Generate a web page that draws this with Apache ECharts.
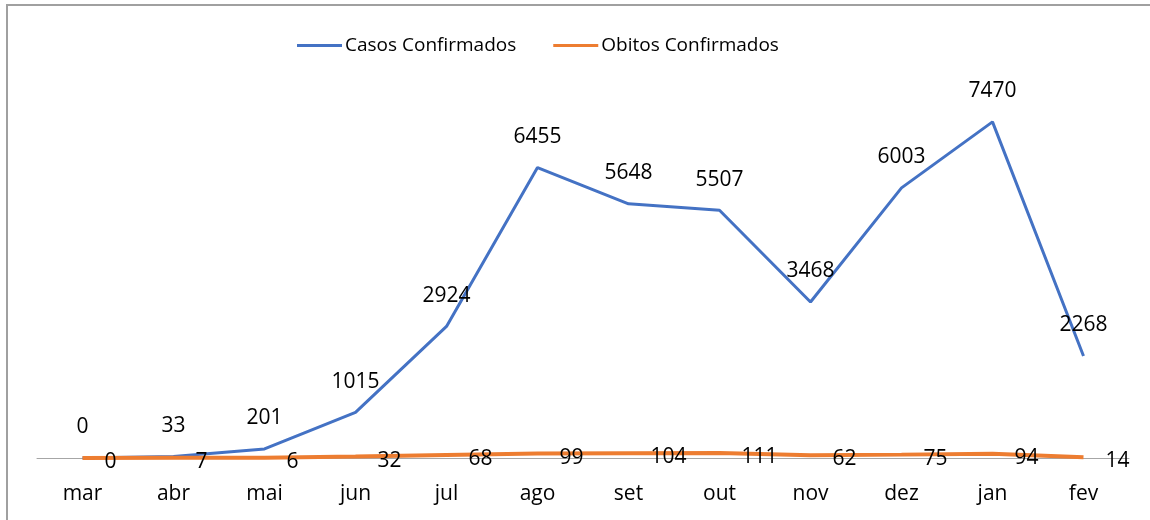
<!DOCTYPE html>
<html>
<head>
<meta charset="utf-8">
<script src="https://cdn.jsdelivr.net/npm/echarts@6/dist/echarts.min.js"></script>
<style>html,body{margin:0;padding:0;background:#fff;}#c{width:1150px;height:520px;}</style>
</head>
<body>
<div id="c"></div>
<script>
const months = ['mar','abr','mai','jun','jul','ago','set','out','nov','dez','jan','fev'];
const casos = [0,33,201,1015,2924,6455,5648,5507,3468,6003,7470,2268];
const obitos = [0,7,6,32,68,99,104,111,62,75,94,14];
const seriesNames = ['Casos Confirmados','Obitos Confirmados'];

const FONT = 'Open Sans';
const chart = echarts.init(document.getElementById('c'));
chart.setOption({
  animation: false,
  textStyle: {fontFamily: FONT},
  graphic: [{type:'rect', shape:{x:7, y:5, width:1300, height:700}, style:{fill:'none', stroke:'#A0A0A0', lineWidth:2}, silent:true}],
  legend: {
    top: 31, left: 292,
    itemWidth: 45, itemHeight: 3, itemGap: 37,
    icon: 'rect',
    textStyle: {fontFamily: FONT, fontSize: 19, color: '#000', padding:[0,0,0,-2]},
    data: seriesNames
  },
  grid: {left: 37, right: 21, top: 98, bottom: 62, containLabel: false},
  xAxis: {
    type: 'category', data: months, boundaryGap: true,
    axisLine: {lineStyle: {color: '#A6A6A6', width: 1}},
    axisTick: {show: false},
    axisLabel: {fontFamily: FONT, fontSize: 21, color: '#000', margin: 26}
  },
  yAxis: {type: 'value', min: 0, max: 8000, show: false, splitLine: {show: false}},
  series: [
    {name: seriesNames[0], type: 'line', data: casos, symbol: 'circle', symbolSize: 0.01, showSymbol: true,
     lineStyle: {color: '#4472C4', width: 3}, itemStyle: {color: '#4472C4'},
     label: {show: true, position: 'top', distance: 20, fontFamily: FONT, fontSize: 21, color: '#000'}},
    {name: seriesNames[1], type: 'line', data: obitos, symbol: 'circle', symbolSize: 0.01, showSymbol: true,
     lineStyle: {color: '#ED7D31', width: 4}, itemStyle: {color: '#ED7D31'},
     label: {show: true, position: 'right', distance: 22, offset: [0, 4], fontFamily: FONT, fontSize: 21, color: '#000'}}
  ]
});
</script>
</body>
</html>
